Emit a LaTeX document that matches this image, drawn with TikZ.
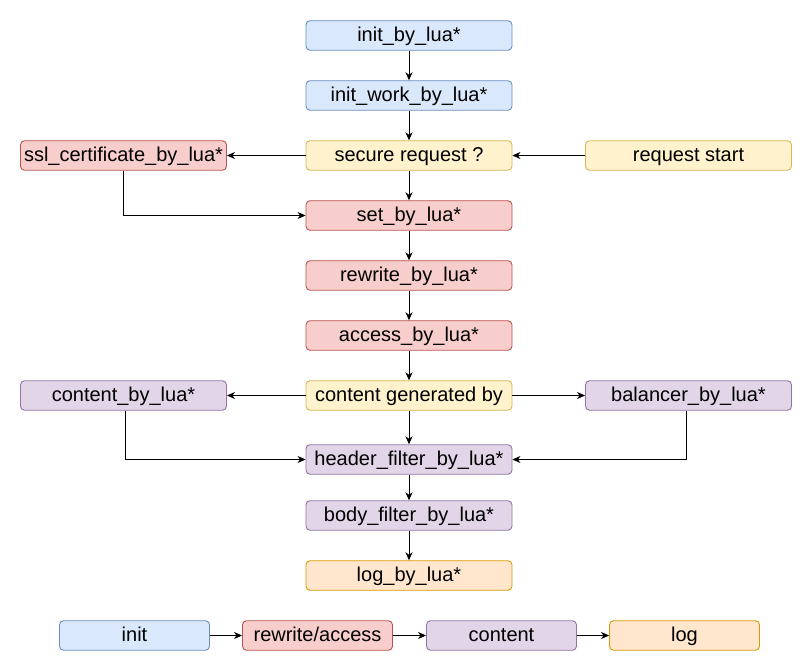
\documentclass[tikz,border=0pt]{standalone}
\usepackage{fontspec}
\setmainfont{Liberation Sans}
\usetikzlibrary{arrows.meta}

\definecolor{initfill}{HTML}{DAE8FC}
\definecolor{initline}{HTML}{6C8EBF}
\definecolor{rewritefill}{HTML}{F8CECC}
\definecolor{rewriteline}{HTML}{B85450}
\definecolor{requestfill}{HTML}{FFF2CC}
\definecolor{requestline}{HTML}{D6B656}
\definecolor{contentfill}{HTML}{E1D5E7}
\definecolor{contentline}{HTML}{9673A6}
\definecolor{logfill}{HTML}{FFE6CC}
\definecolor{logline}{HTML}{D79B00}

\begin{document}
\begin{tikzpicture}[x=1pt,y=-1pt,
        phase/.style={draw,rounded corners=4pt,line width=0.9pt,minimum width=206pt,
            minimum height=29.5pt,inner sep=1pt,text height=15pt,text depth=3pt,
            font=\fontsize{20}{23}\selectfont},
        legend phase/.style={phase,minimum width=150pt},
        init/.style={fill=initfill,draw=initline},
        rewrite/.style={fill=rewritefill,draw=rewriteline},
        request/.style={fill=requestfill,draw=requestline},
        content/.style={fill=contentfill,draw=contentline},
        log/.style={fill=logfill,draw=logline},
        flow/.style={-{Stealth[length=8pt,width=7pt,inset=2.5pt]},line width=0.8pt}]

    \useasboundingbox (0,0) rectangle (812,671);

    \node[phase,init] (initlua) at (409,35.5) {init\_by\_lua*};
    \node[phase,init] (initwork) at (409,95.5) {init\_work\_by\_lua*};
    \node[phase,request] (secure) at (409,155.5) {secure request ?};
    \node[phase,request] (start) at (688.5,155.5) {request start};
    \node[phase,rewrite] (ssl) at (123.5,155.5) {ssl\_certificate\_by\_lua*};
    \node[phase,rewrite] (setlua) at (409,215.5) {set\_by\_lua*};
    \node[phase,rewrite] (rewritelua) at (409,275.5) {rewrite\_by\_lua*};
    \node[phase,rewrite] (accesslua) at (409,335.5) {access\_by\_lua*};
    \node[phase,request] (generated) at (409,395.5) {content generated by};
    \node[phase,content] (contentlua) at (123.5,395.5) {content\_by\_lua*};
    \node[phase,content] (balancer) at (688.5,395.5) {balancer\_by\_lua*};
    \node[phase,content] (header) at (409,459.5) {header\_filter\_by\_lua*};
    \node[phase,content] (body) at (409,515.5) {body\_filter\_by\_lua*};
    \node[phase,log] (loglua) at (409,575.5) {log\_by\_lua*};

    \node[legend phase,init] (kinit) at (134.5,635.5) {init};
    \node[legend phase,rewrite] (krewrite) at (317.5,635.5) {rewrite/access};
    \node[legend phase,content] (kcontent) at (501.5,635.5) {content};
    \node[legend phase,log] (klog) at (684.5,635.5) {log};

    \draw[flow] (initlua) -- (initwork);
    \draw[flow] (initwork) -- (secure);
    \draw[flow] (start) -- (secure);
    \draw[flow] (secure) -- (ssl);
    \draw[flow] (secure) -- (setlua);
    \draw[flow] (ssl.south) |- (setlua.west);
    \draw[flow] (setlua) -- (rewritelua);
    \draw[flow] (rewritelua) -- (accesslua);
    \draw[flow] (accesslua) -- (generated);
    \draw[flow] (generated) -- (contentlua);
    \draw[flow] (generated) -- (balancer);
    \draw[flow] (generated) -- (header);
    \draw[flow] ([xshift=1.5pt]contentlua.south) |- (header.west);
    \draw[flow] ([xshift=-2.5pt]balancer.south) |- (header.east);
    \draw[flow] (header) -- (body);
    \draw[flow] (body) -- (loglua);

    \draw[flow] (kinit) -- (krewrite);
    \draw[flow] (krewrite) -- (kcontent);
    \draw[flow] (kcontent) -- (klog);
\end{tikzpicture}
\end{document}
